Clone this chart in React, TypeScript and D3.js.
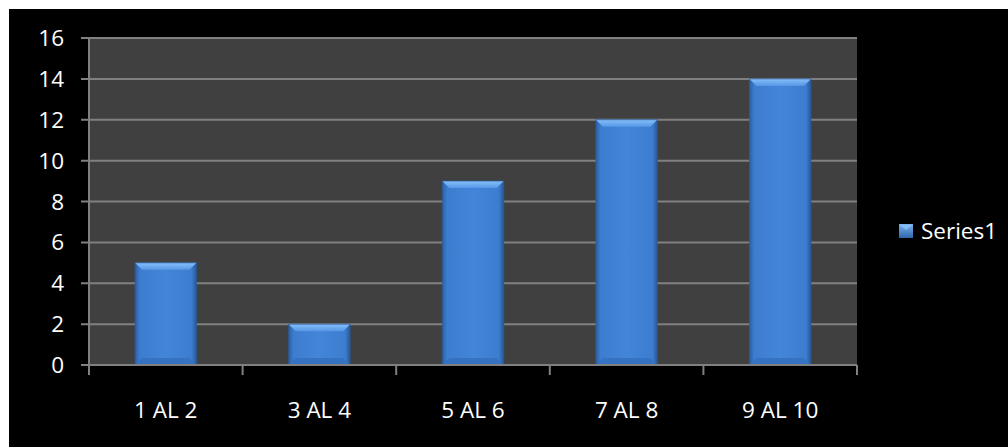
import React from "react";
import * as d3 from "d3";

const categories = ["1 AL 2", "3 AL 4", "5 AL 6", "7 AL 8", "9 AL 10"];
const values = [5, 2, 9, 12, 14];
const yTicks = [0, 2, 4, 6, 8, 10, 12, 14, 16];
const seriesName = "Series1";

export default function App() {
  const W = 1008, H = 447;
  const left = 89, right = 857, top = 38, bottom = 365;
  const x = d3.scaleBand<string>().domain(categories).range([left, right]).paddingInner(0).paddingOuter(0);
  const y = d3.scaleLinear().domain([0, 16]).range([bottom, top]);
  const bw = x.bandwidth() * 0.4;
  const font = "'Open Sans', sans-serif";
  const bevel = 7;
  return (
    <svg width={W} height={H} style={{ position: "absolute", left: 0, top: 0 }}>
      <defs>
        <linearGradient id="body" x1="0" y1="0" x2="1" y2="0">
          <stop offset="0" stopColor="#2c5fa5" />
          <stop offset="0.08" stopColor="#3d7dd0" />
          <stop offset="0.5" stopColor="#4385d9" />
          <stop offset="0.92" stopColor="#3d7dd0" />
          <stop offset="1" stopColor="#285796" />
        </linearGradient>
        <linearGradient id="topb" x1="0" y1="0" x2="0" y2="1">
          <stop offset="0" stopColor="#86c0fa" />
          <stop offset="1" stopColor="#5697e6" />
        </linearGradient>
        <linearGradient id="leg" x1="0" y1="0" x2="0" y2="1">
          <stop offset="0" stopColor="#7ab4f2" />
          <stop offset="1" stopColor="#2f65ad" />
        </linearGradient>
      </defs>
      <rect x={0} y={0} width={W} height={H} fill="#ffffff" />
      <rect x={9} y={9} width={W - 9} height={H - 9} fill="#000000" />
      <rect x={left} y={top} width={right - left} height={bottom - top} fill="#404040" />
      {yTicks.map((t) => (
        <g key={t}>
          <line x1={81} x2={right} y1={y(t)} y2={y(t)} stroke="#808080" strokeWidth={2} />
          <text x={64} y={y(t)} dy="0.36em" textAnchor="end" fill="#ffffff" fontFamily={font} fontSize={22.5}>{t}</text>
        </g>
      ))}
      <line x1={left} x2={left} y1={top} y2={bottom + 10} stroke="#808080" strokeWidth={2} />
      {categories.map((c) => (
        <line key={"t" + c} x1={x(c)! + x.bandwidth()} x2={x(c)! + x.bandwidth()} y1={bottom} y2={bottom + 10} stroke="#808080" strokeWidth={2} />
      ))}
      {categories.map((c, i) => {
        const cx = x(c)! + x.bandwidth() / 2;
        const x0 = cx - bw / 2, x1 = cx + bw / 2;
        const y0 = y(values[i]), y1 = y(0);
        return (
          <g key={c}>
            <rect x={x0} y={y0} width={bw} height={y1 - y0} fill="url(#body)" />
            <polygon points={`${x0},${y0} ${x1},${y0} ${x1 - bevel},${y0 + bevel} ${x0 + bevel},${y0 + bevel}`} fill="url(#topb)" />
            <polygon points={`${x0},${y1} ${x1},${y1} ${x1 - bevel},${y1 - bevel} ${x0 + bevel},${y1 - bevel}`} fill="#3672c2" />
            <rect x={x0} y={y0} width={bw} height={y1 - y0} fill="none" stroke="#2b5c9e" strokeWidth={1} strokeOpacity={0.7} />
            <text x={cx} y={410} dy="0.36em" textAnchor="middle" fill="#ffffff" fontFamily={font} fontSize={22.5}>{c}</text>
          </g>
        );
      })}
      <line x1={81} x2={right} y1={bottom} y2={bottom} stroke="#808080" strokeWidth={2} />
      <rect x={899} y={224} width={14} height={14} fill="url(#leg)" />
      <polygon points="900,225 912,225 906,230" fill="#8cc4fa" opacity={0.8} />
      <text x={921} y={231} dy="0.36em" fill="#ffffff" fontFamily={font} fontSize={22.5}>{seriesName}</text>
    </svg>
  );
}
